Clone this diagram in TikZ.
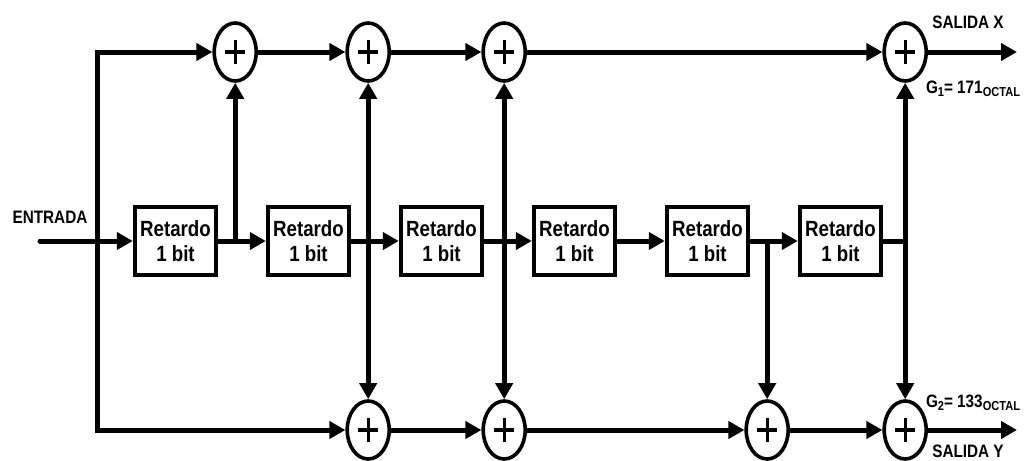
\documentclass[tikz,border=0pt]{standalone}
\usepackage{fontspec}
\setmainfont{Liberation Sans}[FakeStretch=0.85]
\usetikzlibrary{arrows.meta,positioning,calc,shapes.geometric}
\newcommand{\lowtext}[1]{\raisebox{-0.35ex}{\fontsize{6.5}{7}\selectfont #1}}

\begin{document}
\begin{tikzpicture}[
  x=0.5pt, y=-0.5pt,
  font=\bfseries,
  node distance=23.8pt,
  box/.style={draw, line width=2.2pt, minimum width=40.5pt, minimum height=34pt, align=center, inner sep=0pt, font=\bfseries\fontsize{11}{12.5}\selectfont},
  adder/.style={draw, ellipse, line width=1.8pt, minimum width=21pt, minimum height=29pt, inner sep=0pt,
    path picture={\draw[line width=1.7pt]
      ([xshift=-5pt]path picture bounding box.center) -- ([xshift=5pt]path picture bounding box.center)
      ([yshift=-6.2pt]path picture bounding box.center) -- ([yshift=6.2pt]path picture bounding box.center);}},
  arrow/.style={-{Triangle[length=8pt,width=8.5pt]}, line width=2.5pt},
  wire/.style={line width=2.5pt},
  tag/.style={font=\bfseries\fontsize{9}{10}\selectfont, inner sep=0pt}
]
  \useasboundingbox (0,0) rectangle (1030,461);

  % delay chain
  \node[box] (r1) at (175.5,241) {Retardo\\1 bit};
  \node[box, right=of r1] (r2) {Retardo\\1 bit};
  \node[box, right=of r2] (r3) {Retardo\\1 bit};
  \node[box, right=of r3] (r4) {Retardo\\1 bit};
  \node[box, right=of r4] (r5) {Retardo\\1 bit};
  \node[box, right=of r5] (r6) {Retardo\\1 bit};

  \coordinate (in) at (40,241);
  \coordinate (split) at (97,241);
  \coordinate (toprow) at (0,52);
  \coordinate (botrow) at (0,430);
  \coordinate (t1) at ([xshift=8.5pt]r1.east);
  \coordinate (t2) at ([xshift=8.5pt]r2.east);
  \coordinate (t3) at ([xshift=10pt]r3.east);
  \coordinate (t4) at ([xshift=8.5pt]r5.east);
  \coordinate (t5) at ([xshift=11pt]r6.east);

  % adders
  \node[adder] (sx1) at (t1 |- toprow) {};
  \node[adder] (sx2) at (t2 |- toprow) {};
  \node[adder] (sx3) at (t3 |- toprow) {};
  \node[adder] (sx4) at (t5 |- toprow) {};
  \node[adder] (sy1) at (t2 |- botrow) {};
  \node[adder] (sy2) at (t3 |- botrow) {};
  \node[adder] (sy3) at (t4 |- botrow) {};
  \node[adder] (sy4) at (t5 |- botrow) {};

  \coordinate (outx) at (1017,52);
  \coordinate (outy) at (1017,430);

  % labels
  \node[tag] (entrada) at (50,217) {ENTRADA};
  \node[tag] (salx) at (968,22) {SALIDA X};
  \node[tag] (g1) at (973,89) {G\lowtext{1}= 171\lowtext{OCTAL}};
  \node[tag] (g2) at (973,403) {G\lowtext{2}= 133\lowtext{OCTAL}};
  \node[tag] (saly) at (968,451) {SALIDA Y};

  % connections
  \draw[arrow, line cap=round] (in) -- (r1);
  \draw[arrow] (split) |- (sx1);
  \draw[arrow] (split) |- (sy1);
  \draw[arrow] (r1) -- (r2);
  \draw[arrow] (r2) -- (r3);
  \draw[arrow] (r3) -- (r4);
  \draw[arrow] (r4) -- (r5);
  \draw[arrow] (r5) -- (r6);
  \draw[wire] (r6) -- (t5);

  \draw[arrow] (t1) -- (sx1);
  \draw[arrow] (t2) -- (sx2);
  \draw[arrow] (t2) -- (sy1);
  \draw[arrow] (t3) -- (sx3);
  \draw[arrow] (t3) -- (sy2);
  \draw[arrow] (t4) -- (sy3);
  \draw[arrow] (t5) -- (sx4);
  \draw[arrow] (t5) -- (sy4);

  \draw[arrow] (sx1) -- (sx2);
  \draw[arrow] (sx2) -- (sx3);
  \draw[arrow] (sx3) -- (sx4);
  \draw[arrow] (sx4) -- (outx);
  \draw[arrow] (sy1) -- (sy2);
  \draw[arrow] (sy2) -- (sy3);
  \draw[arrow] (sy3) -- (sy4);
  \draw[arrow] (sy4) -- (outy);
\end{tikzpicture}
\end{document}
